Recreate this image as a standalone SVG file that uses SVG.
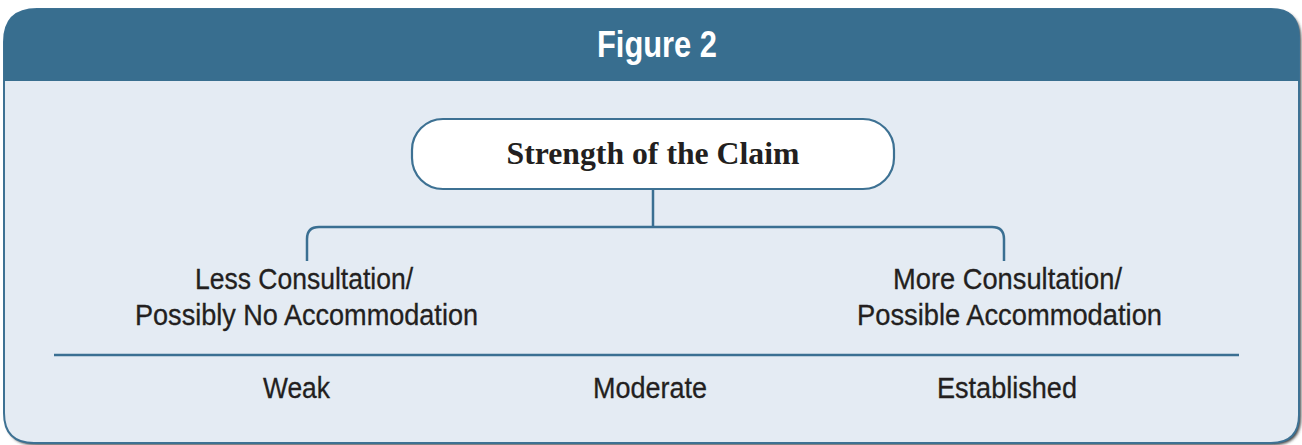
<svg xmlns="http://www.w3.org/2000/svg" width="1302" height="445" viewBox="0 0 1302 445">
<defs>
<filter id="sh" x="-5%" y="-5%" width="110%" height="110%"><feGaussianBlur stdDeviation="1.5"/></filter>
<style>
.lbl{font-family:"Liberation Sans",Arial,sans-serif;font-size:29px;fill:#231f20;text-anchor:middle;stroke:#231f20;stroke-width:0.3}
.conn{fill:none;stroke:#3a6f92;stroke-width:2.5}
</style>
</defs>
<g id="frame">
<path d="M39,11 H1273 Q1301,11 1301,39 V417 Q1301,445 1273,445 H36 Q6,445 6,415 V44 Q6,11 39,11 Z" fill="#3a3a3a" filter="url(#sh)"/>
<path d="M37,9 H1271 Q1299,9 1299,37 V415 Q1299,443 1271,443 H34 Q4,443 4,413 V42 Q4,9 37,9 Z" fill="#e4ebf3" stroke="#3d7193" stroke-width="2"/>
<path d="M37,9 H1271 Q1299,9 1299,37 V81 H4 V42 Q4,9 37,9 Z" fill="#386e8f"/>
<text x="657" y="57" font-family="'Liberation Sans',Arial,sans-serif" font-weight="bold" font-size="36" fill="#ffffff" text-anchor="middle" textLength="120" lengthAdjust="spacingAndGlyphs">Figure 2</text>
</g>
<g id="connectors">
<path class="conn" d="M653,189 V227"/>
<path class="conn" d="M307,261 V239 Q307,227 319,227 H992 Q1004,227 1004,239 V261"/>
<line x1="54" y1="355" x2="1239" y2="355" stroke="#3a6f92" stroke-width="2.5"/>
</g>
<g id="node-claim">
<rect x="412" y="119" width="482" height="70" rx="31" ry="31" fill="#ffffff" stroke="#3d7193" stroke-width="2.2"/>
<text x="653" y="164" font-family="'Liberation Serif','Times New Roman',serif" font-weight="bold" font-size="31.5" fill="#231f20" text-anchor="middle" textLength="293" lengthAdjust="spacingAndGlyphs">Strength of the Claim</text>
</g>
<g id="node-less">
<text class="lbl" x="304" y="289" textLength="218" lengthAdjust="spacingAndGlyphs">Less Consultation/</text>
<text class="lbl" x="306.5" y="325" textLength="343" lengthAdjust="spacingAndGlyphs">Possibly No Accommodation</text>
</g>
<g id="node-more">
<text class="lbl" x="1007.5" y="289" textLength="229" lengthAdjust="spacingAndGlyphs">More Consultation/</text>
<text class="lbl" x="1009.5" y="325" textLength="305" lengthAdjust="spacingAndGlyphs">Possible Accommodation</text>
</g>
<g id="scale">
<text class="lbl" x="296.5" y="398" textLength="67" lengthAdjust="spacingAndGlyphs">Weak</text>
<text class="lbl" x="650" y="398" textLength="114" lengthAdjust="spacingAndGlyphs">Moderate</text>
<text class="lbl" x="1007" y="398" textLength="140" lengthAdjust="spacingAndGlyphs">Established</text>
</g>
</svg>
